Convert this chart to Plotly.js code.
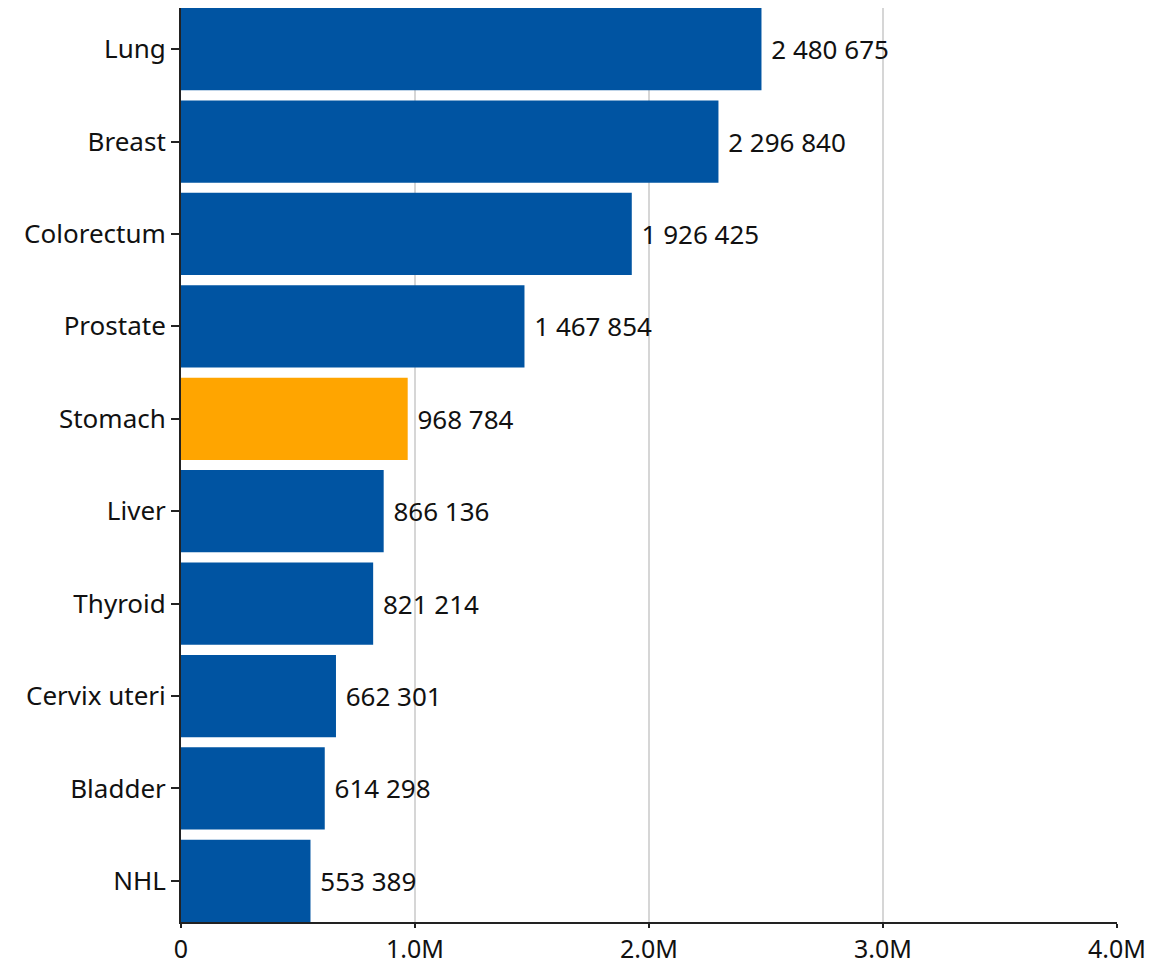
<!DOCTYPE html>
<html>
<head>
<meta charset="utf-8">
<script src="https://cdn.plot.ly/plotly-3.0.1.min.js"></script>
<style>html,body{margin:0;padding:0;background:#fff;}#chart{width:1150px;height:964px;}</style>
</head>
<body>
<div id="chart"></div>
<script>
const categories = ["Lung","Breast","Colorectum","Prostate","Stomach","Liver","Thyroid","Cervix uteri","Bladder","NHL"];
const cases = [2480675, 2296840, 1926425, 1467854, 968784, 866136, 821214, 662301, 614298, 553389];
const highlight = "Stomach";
const tickValues = [0, 1000000, 2000000, 3000000, 4000000];
const tickLabels = ["0", "1.0M", "2.0M", "3.0M", "4.0M"];

const colors = categories.map(c => c === highlight ? "#FFA500" : "#0054A2");
const gap = 0.11;
const half = (1 - gap) / 2;

Plotly.newPlot("chart", [{
  type: "bar",
  orientation: "h",
  y: categories,
  x: cases,
  marker: {color: colors, line: {width: 0}},
  texttemplate: "\u00a0%{x:,}",
  textposition: "outside",
  cliponaxis: false,
  textfont: {family: "Noto Sans, sans-serif", size: 26, color: "#111"},
  hoverinfo: "none"
}], {
  width: 1150,
  height: 964,
  margin: {l: 181, r: 33, t: 8, b: 42},
  paper_bgcolor: "#fff",
  plot_bgcolor: "#fff",
  separators: ". ",
  bargap: gap,
  showlegend: false,
  font: {family: "Noto Sans, sans-serif", size: 26, color: "#111"},
  xaxis: {
    range: [0, 4000000],
    tickvals: tickValues,
    ticktext: tickLabels,
    showgrid: true,
    gridcolor: "#d6d6d6",
    gridwidth: 1.5,
    zeroline: false,
    showline: true,
    linecolor: "#222",
    linewidth: 2,
    ticks: "outside",
    ticklen: 4,
    tickwidth: 2,
    tickcolor: "#222",
    tickfont: {size: 25, color: "#111"}
  },
  yaxis: {
    categoryorder: "array",
    categoryarray: categories.slice().reverse(),
    range: [-half, categories.length - 1 + half],
    showgrid: false,
    zeroline: false,
    showline: true,
    linecolor: "#222",
    linewidth: 2,
    ticks: "outside",
    ticklen: 8,
    tickwidth: 2,
    tickcolor: "#222",
    tickfont: {size: 26, color: "#111"}
  }
}, {displayModeBar: false, staticPlot: true});
</script>
</body>
</html>
